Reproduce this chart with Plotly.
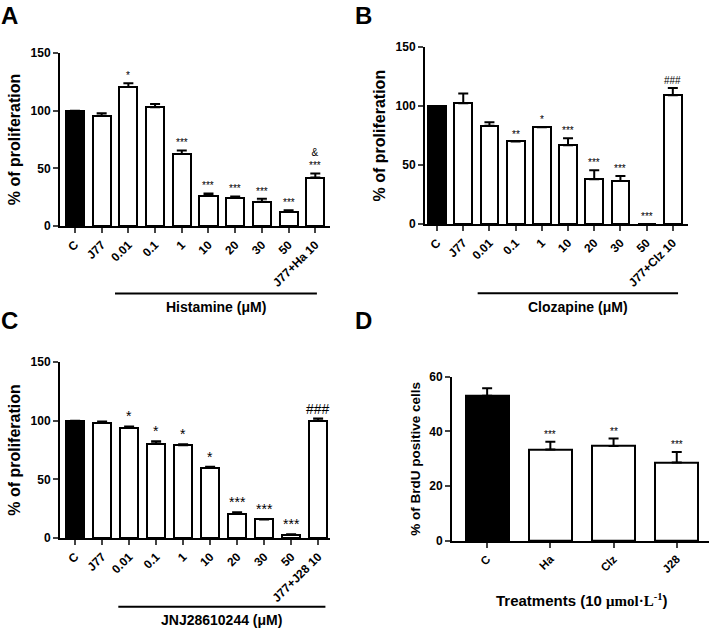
import plotly.graph_objects as go

W, H = 709, 635

# ---- data ----
conc_labels = ["C", "J77", "0.01", "0.1", "1", "10", "20", "30", "50"]

ha_labels = conc_labels + ["J77+Ha 10"]
ha_mean = [100, 95.5, 120.5, 103, 62.5, 26.5, 24.5, 21, 12.5, 42]
ha_sem = [0, 2.2, 3.3, 2.8, 3.0, 1.8, 1.2, 2.6, 1.2, 3.6]
ha_sig = ["", "", "*", "", "***", "***", "***", "***", "***", "&<br>***"]

clz_labels = conc_labels + ["J77+Clz 10"]
clz_mean = [100, 102.5, 83.3, 70, 82, 66.8, 38, 36.5, 0, 109.3]
clz_sem = [0, 8.2, 3.0, None, None, 6.0, 7.7, 4.3, None, 6.0]
clz_sig = ["", "", "", "**", "*", "***", "***", "***", "***", "###"]

j28_labels = conc_labels + ["J77+J28 10"]
j28_mean = [100, 98, 94, 80.5, 79, 59.7, 20.8, 15.8, 2.5, 100]
j28_sem = [0, 1.2, 1.1, 2.0, 1.0, 1.1, 1.1, 0.3, 0.7, 1.8]
j28_sig = ["", "", "*", "*", "*", "*", "***", "***", "***", "###"]

brdu_labels = ["C", "Ha", "Clz", "J28"]
brdu_mean = [53, 33.4, 34.7, 28.7]
brdu_sem = [2.8, 2.8, 2.7, 3.8]
brdu_sig = ["", "***", "**", "***"]

FONT = "Liberation Sans, Arial, sans-serif"

fig = go.Figure()


def px_dom_x(a, b):
    return [a / W, b / W]


def px_dom_y(bottom, top):
    return [(H - bottom) / H, (H - top) / H]


def panel(idx, labels, mean, sem, sig, xdom, ydom, xrng, yrng, dtick,
          ytitle, tsize=16, bar_w=0.68, sig_size=10, tick_size=12):
    n = len(labels)
    xs = list(range(n))
    colors = ["black"] + ["white"] * (n - 1)
    sfx = "" if idx == 1 else str(idx)
    plus = [s if s is not None else float("nan") for s in sem]
    fig.add_trace(go.Bar(
        x=xs, y=mean, width=bar_w, xaxis="x" + sfx, yaxis="y" + sfx,
        marker=dict(color=colors, line=dict(color="black", width=2)),
        error_y=dict(type="data", array=plus, arrayminus=[0] * n, symmetric=False,
                     color="black", thickness=2, width=5),
        showlegend=False, hoverinfo="skip",
    ))
    for i, s in enumerate(sig):
        if not s:
            continue
        top = mean[i] + (sem[i] or 0)
        fig.add_annotation(x=i, y=top, xref="x" + sfx, yref="y" + sfx,
                           text=s, showarrow=False, yanchor="bottom", yshift=0,
                           font=dict(family=FONT, size=sig_size, color="black"))
    fig.layout["xaxis" + sfx] = dict(
        domain=xdom, anchor="y" + sfx, range=xrng, tickmode="array",
        tickvals=xs, ticktext=labels, tickangle=-45, ticks="outside", ticklen=5,
        tickwidth=2, showline=True, linewidth=2, linecolor="black",
        showgrid=False, zeroline=False, fixedrange=True,
        tickfont=dict(family=FONT, size=tick_size, color="black", weight="bold"),
    )
    fig.layout["yaxis" + sfx] = dict(
        domain=ydom, anchor="x" + sfx, range=yrng, dtick=dtick, tick0=0,
        ticks="outside", ticklen=5, tickwidth=2, showline=True, linewidth=2,
        linecolor="black", showgrid=False, zeroline=False, fixedrange=True,
        tickfont=dict(family=FONT, size=12, color="black", weight="bold"),
        title=dict(text=ytitle, standoff=6,
                   font=dict(family=FONT, size=tsize, color="black", weight="bold")),
    )


panel(1, ha_labels, ha_mean, ha_sem, ha_sig, px_dom_x(60, 330), px_dom_y(224, 47),
      [-0.56, 9.55], [0, 150], 50, "% of proliferation")
panel(2, clz_labels, clz_mean, clz_sem, clz_sig, px_dom_x(425, 688), px_dom_y(222, 41),
      [-0.46, 9.58], [0, 150], 50, "% of proliferation")
panel(3, j28_labels, j28_mean, j28_sem, j28_sig, px_dom_x(60, 330), px_dom_y(543, 363),
      [-0.56, 9.44], [0, 150], 50, "% of proliferation", sig_size=14)
panel(4, brdu_labels, brdu_mean, brdu_sem, brdu_sig, px_dom_x(452, 709), px_dom_y(546, 378),
      [-0.556, 3.51], [0, 60], 20, "% of BrdU positive cells", tsize=13.5, tick_size=11.5)

# brackets with group titles under the dose-response panels
groups = [("x", "y", 1.5, 9.06, "Histamine (μM)"),
          ("x2", "y2", 1.55, 9.2, "Clozapine (μM)"),
          ("x3", "y3", 1.6, 9.27, "JNJ28610244 (μM)")]
for xr, yr, x0, x1, name in groups:
    fig.add_shape(type="line", xref=xr, yref=yr + " domain", x0=x0, x1=x1,
                  y0=-0.39, y1=-0.39, line=dict(color="black", width=2))
    fig.add_annotation(x=(x0 + x1) / 2, y=-0.41, xref=xr, yref=yr + " domain",
                       text=name, showarrow=False, yanchor="top",
                       font=dict(family=FONT, size=14, color="black", weight="bold"))

fig.add_annotation(x=1.5, y=-0.29, xref="x4", yref="y4 domain", showarrow=False,
                   yanchor="top",
                   text="Treatments (10 <span style='font-family:Liberation Serif'>μmol·L<sup>-1</sup></span>)",
                   font=dict(family=FONT, size=15, color="black", weight="bold"))

for letter, lx, ly in [("A", 0, 0), ("B", 354, 0), ("C", 0, 312), ("D", 354, 312)]:
    fig.add_annotation(x=lx / W, y=1 - ly / H, xref="paper", yref="paper",
                       xanchor="left", yanchor="top", xshift=-1, yshift=7, text=letter,
                       showarrow=False,
                       font=dict(family=FONT, size=24, color="black", weight="bold"))

fig.update_layout(width=W, height=H, margin=dict(l=0, r=0, t=0, b=0),
                  paper_bgcolor="white", plot_bgcolor="white", bargap=0)

# drop the browser's default body margin so the figure fills the window
fig.write_html("out.html", config={"displayModeBar": False},
               post_script="document.body.style.margin = '0';")
